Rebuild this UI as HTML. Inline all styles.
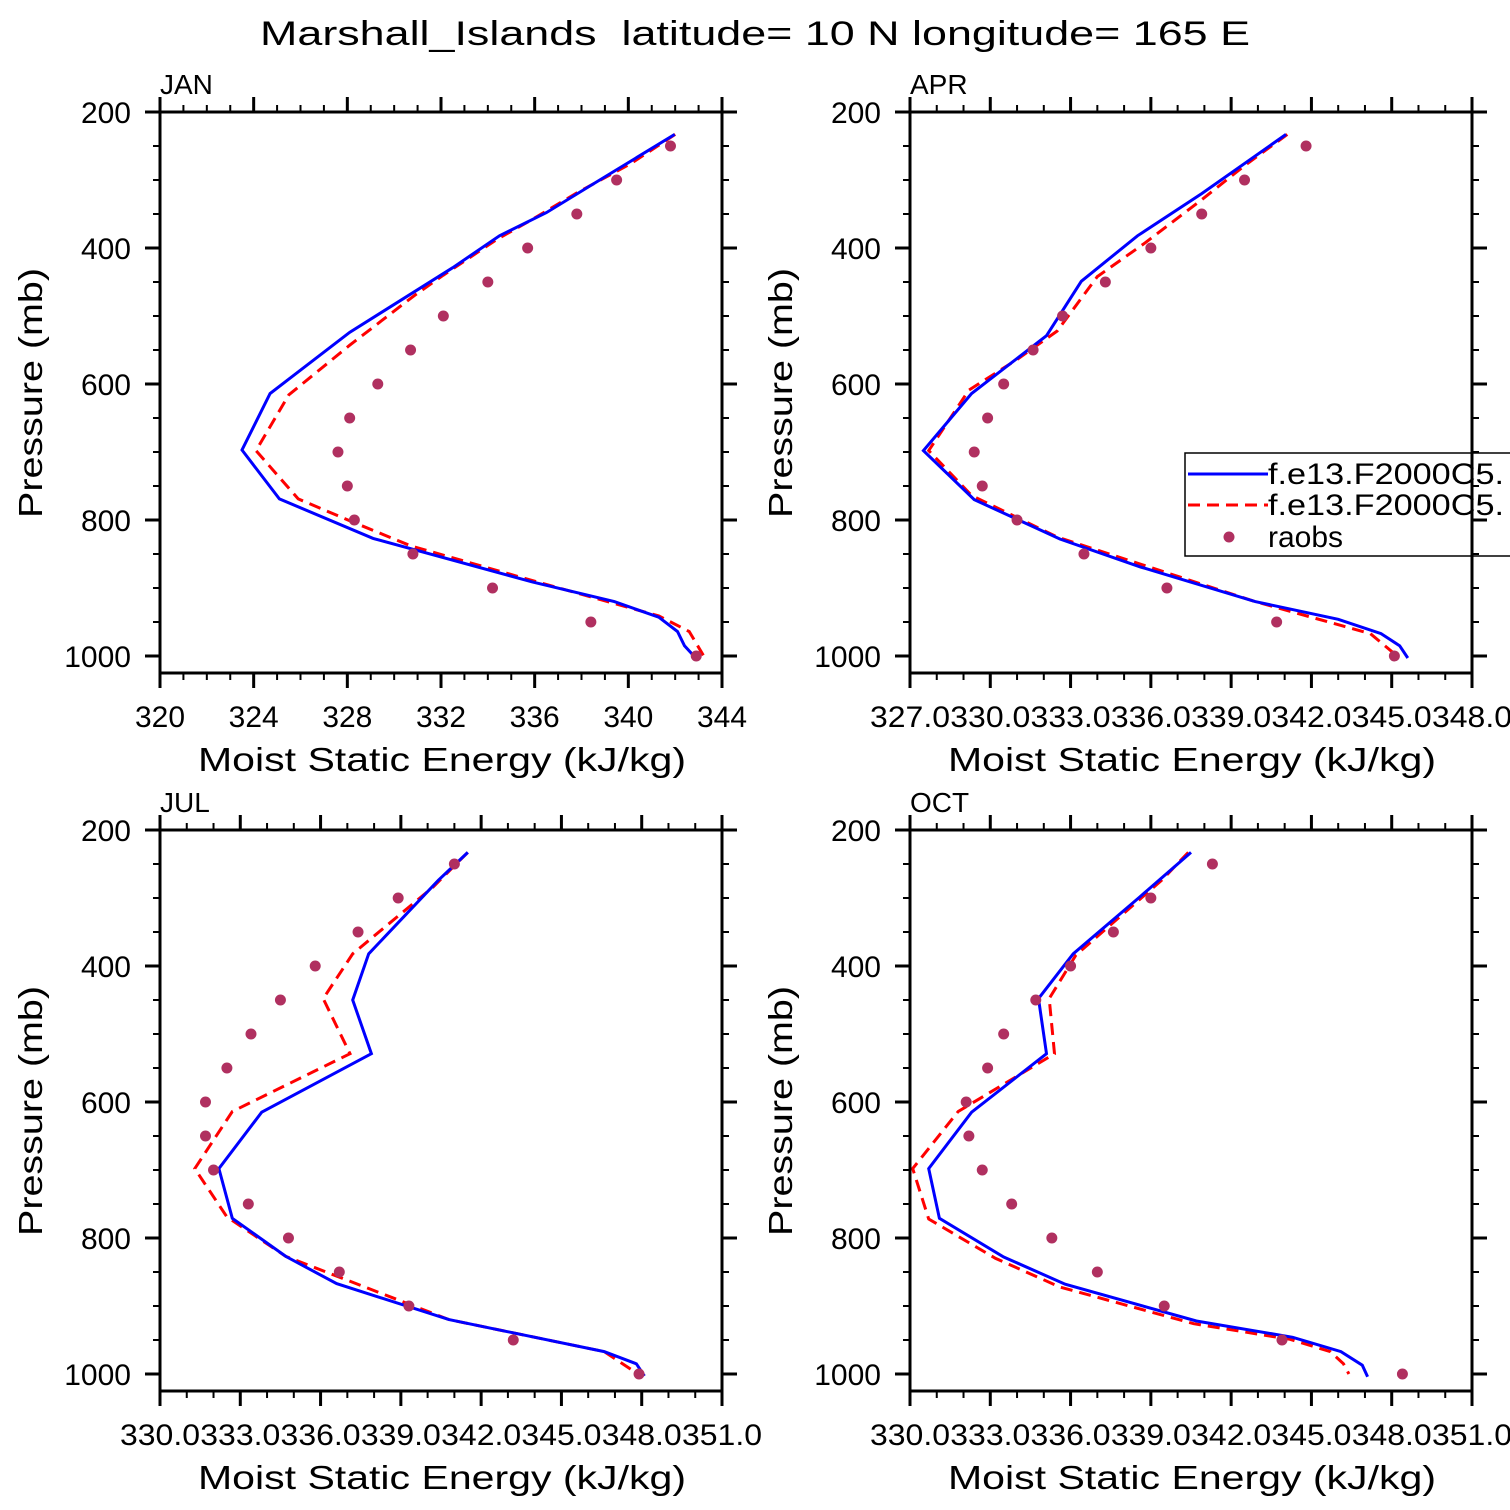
<!DOCTYPE html>
<html><head><meta charset="utf-8"><title>Marshall Islands MSE</title>
<style>html,body{margin:0;padding:0;background:#fff;overflow:hidden}svg{display:block}text{font-family:"Liberation Sans",sans-serif;fill:#000}</style>
</head><body>
<svg id="chart" width="1510" height="1510" viewBox="0 0 1510 1510" xmlns="http://www.w3.org/2000/svg">
<rect width="1510" height="1510" fill="#fff"/>
<text x="260" y="45" font-size="34" textLength="990" lengthAdjust="spacingAndGlyphs" xml:space="preserve">Marshall_Islands  latitude= 10 N longitude= 165 E</text>
</svg>
<script>
// ---- data ----
const raobsP = [250,300,350,400,450,500,550,600,650,700,750,800,850,900,950,1000];
const janBlueP = [233,308,348,382,429,524,614,697,769,827,891,920,943,964,985,1000];
const janBlueV = [341.98,338.4,336.5,334.5,332.5,328.1,324.7,323.5,325.1,329.1,335.9,339.4,341.3,342.1,342.4,342.8];
const janRedP = [233,276,319,358,387,440,469,543,616,698,769,804,838,891,941,964,999];
const janRedV = [342.0,340.1,337.8,335.9,334.4,332.1,330.9,328.1,325.5,324.1,325.9,328.3,330.7,336.1,341.3,342.6,343.2];
const janObs = [341.8,339.5,337.8,335.7,334.0,332.1,330.7,329.3,328.1,327.6,328.0,328.3,330.8,334.2,338.4,342.9];
const aprBlueP = [233,320,382,449,529,614,698,770,828,869,920,946,967,985,1003];
const aprBlueV = [341.05,337.9,335.5,333.4,332.1,329.3,327.5,329.4,332.6,335.6,339.9,343.0,344.6,345.3,345.6];
const aprRedP = [233,279,329,392,442,522,564,609,698,764,825,920,967,1000];
const aprRedV = [341.1,339.5,337.9,335.8,334.0,332.5,331.0,329.2,327.7,329.3,332.5,339.9,344.2,345.2];
const aprObs = [341.8,339.5,337.9,336.0,334.3,332.7,331.6,330.5,329.9,329.4,329.7,331.0,333.5,336.6,340.7,345.1];
const julBlueP = [233,274,382,450,529,615,698,771,827,867,920,967,985,1003];
const julBlueV = [341.5,340.4,337.8,337.2,337.9,333.8,332.2,332.7,334.7,336.6,340.8,346.6,347.8,348.1];
const julRedP = [233,284,382,448,529,614,698,769,827,920,967,1001];
const julRedV = [341.5,340.2,337.2,336.1,337.1,332.7,331.3,332.5,334.7,340.8,346.6,347.9];
const julObs = [341.0,338.9,337.4,335.8,334.5,333.4,332.5,331.7,331.7,332.0,333.3,334.8,336.7,339.3,343.2,347.9];
const octBlueP = [233,298,382,448,529,615,698,771,828,868,922,946,967,987,1004];
const octBlueV = [340.5,338.6,336.1,334.8,335.1,332.3,330.7,331.1,333.5,335.8,340.7,344.3,346.1,346.9,347.1];
const octRedP = [233,274,384,448,529,614,698,772,830,872,926,949,967,985,1000];
const octRedV = [340.4,339.4,336.2,335.2,335.4,331.8,330.1,330.7,333.2,335.6,340.6,344.2,345.7,346.2,346.4];
const octObs = [341.3,339.0,337.6,336.0,334.7,333.5,332.9,332.1,332.2,332.7,333.8,335.3,337.0,339.5,343.9,348.4];
const yTicks = [200,400,600,800,1000];
const janXTicks = ["320","324","328","332","336","340","344"];
const aprXTicks = ["327.0","330.0","333.0","336.0","339.0","342.0","345.0","348.0"];
const botXTicks = ["330.0","333.0","336.0","339.0","342.0","345.0","348.0","351.0"];
const legendLabels = ["f.e13.F2000C5.","f.e13.F2000C5.","raobs"];

const NS="http://www.w3.org/2000/svg";
const svg=document.getElementById('chart');
function mk(tag,attrs,parent){const e=document.createElementNS(NS,tag);for(const k in attrs)e.setAttribute(k,attrs[k]);(parent||svg).appendChild(e);return e;}

const panels=[
 {name:'jan',label:'JAN',x0:160,y0:112,xmin:320,xmax:344,major:4,ticks:janXTicks,bp:janBlueP,bv:janBlueV,rp:janRedP,rv:janRedV,ob:janObs},
 {name:'apr',label:'APR',x0:910,y0:112,xmin:327,xmax:348,major:3,ticks:aprXTicks,bp:aprBlueP,bv:aprBlueV,rp:aprRedP,rv:aprRedV,ob:aprObs,legend:true},
 {name:'jul',label:'JUL',x0:160,y0:830,xmin:330,xmax:351,major:3,ticks:botXTicks,bp:julBlueP,bv:julBlueV,rp:julRedP,rv:julRedV,ob:julObs},
 {name:'oct',label:'OCT',x0:910,y0:830,xmin:330,xmax:351,major:3,ticks:botXTicks,bp:octBlueP,bv:octBlueV,rp:octRedP,rv:octRedV,ob:octObs}
];
const W=562,H=561;
panels.forEach(p=>{
  const g=mk('g',{});
  
  
  const sx=v=>p.x0+(v-p.xmin)/(p.xmax-p.xmin)*W;
  const sy=pr=>p.y0+(pr-200)*0.68;
  const pts=(P,V)=>P.map((pr,i)=>sx(V[i]).toFixed(1)+','+sy(pr).toFixed(1)).join(' ');
  const red=mk('polyline',{points:pts(p.rp,p.rv),fill:'none',stroke:'#ff0000','stroke-width':3,'stroke-dasharray':'12,7'},g);
  
  
  const blue=mk('polyline',{points:pts(p.bp,p.bv),fill:'none',stroke:'#0000ff','stroke-width':3},g);
  
  
  raobsP.forEach((pr,i)=>{
    const c=mk('circle',{cx:sx(p.ob[i]),cy:sy(pr),r:5.5,fill:'#b03060'},g);
    
    
  });
  if(p.legend){
    const lg=mk('g',{},g);
    
    
    mk('rect',{x:1185,y:453,width:360,height:103,fill:'#fff',stroke:'#000','stroke-width':1.5},lg);
    mk('line',{x1:1188,y1:474,x2:1268,y2:474,stroke:'#0000ff','stroke-width':3},lg);
    mk('line',{x1:1188,y1:505,x2:1268,y2:505,stroke:'#ff0000','stroke-width':3,'stroke-dasharray':'12,7'},lg);
    mk('circle',{cx:1229,cy:537,r:5.5,fill:'#b03060'},lg);
    [484,515,547].forEach((y,i)=>{
      const attrs={x:1268,y:y,'font-size':30};
      if(i<2){attrs.textLength=236;attrs.lengthAdjust='spacingAndGlyphs';}
      const t=mk('text',attrs,lg);t.textContent=legendLabels[i];
      
      
    });
  }
  mk('rect',{x:p.x0,y:p.y0,width:W,height:H,fill:'none',stroke:'#000','stroke-width':3},g);
  const nx=p.xmax-p.xmin;
  for(let k=0;k<=nx;k++){
    const x=sx(p.xmin+k);const maj=k%p.major===0;const L=maj?15:7;
    mk('line',{x1:x,y1:p.y0+H,x2:x,y2:p.y0+H+L,stroke:'#000','stroke-width':maj?3:2},g);
    mk('line',{x1:x,y1:p.y0,x2:x,y2:p.y0-L,stroke:'#000','stroke-width':maj?3:2},g);
  }
  p.ticks.forEach((lab,i)=>{
    const attrs={x:sx(p.xmin+i*p.major),y:p.y0+H+54,'font-size':30,'text-anchor':'middle'};
    attrs.textLength=lab.length>3?80:50;attrs.lengthAdjust='spacingAndGlyphs';
    const t=mk('text',attrs,g);
    t.textContent=lab;
    
    
  });
  for(let pr=200;pr<=1000;pr+=50){
    const y=sy(pr);const maj=pr%200===0;const L=maj?15:7;
    mk('line',{x1:p.x0,y1:y,x2:p.x0-L,y2:y,stroke:'#000','stroke-width':maj?3:2},g);
    mk('line',{x1:p.x0+W,y1:y,x2:p.x0+W+L,y2:y,stroke:'#000','stroke-width':maj?3:2},g);
  }
  yTicks.forEach(pr=>{
    const t=mk('text',{x:p.x0-29,y:sy(pr)+11,'font-size':30,'text-anchor':'end'},g);
    t.textContent=String(pr);
    
    
  });
  const xt=mk('text',{x:p.x0+38,y:p.y0+H+98,'font-size':33,textLength:488,lengthAdjust:'spacingAndGlyphs'},g);
  xt.textContent='Moist Static Energy (kJ/kg)';
  
  
  const yc=p.y0+281;
  const yt=mk('text',{x:0,y:0,'font-size':33,'text-anchor':'middle',textLength:250,lengthAdjust:'spacingAndGlyphs',transform:'translate('+(p.x0-118)+','+yc+') rotate(-90)'},g);
  yt.textContent='Pressure (mb)';
  
  
  const pl=mk('text',{x:p.x0,y:p.y0-18,'font-size':28},g);
  pl.textContent=p.label;
  
  
});
</script>
</body></html>
